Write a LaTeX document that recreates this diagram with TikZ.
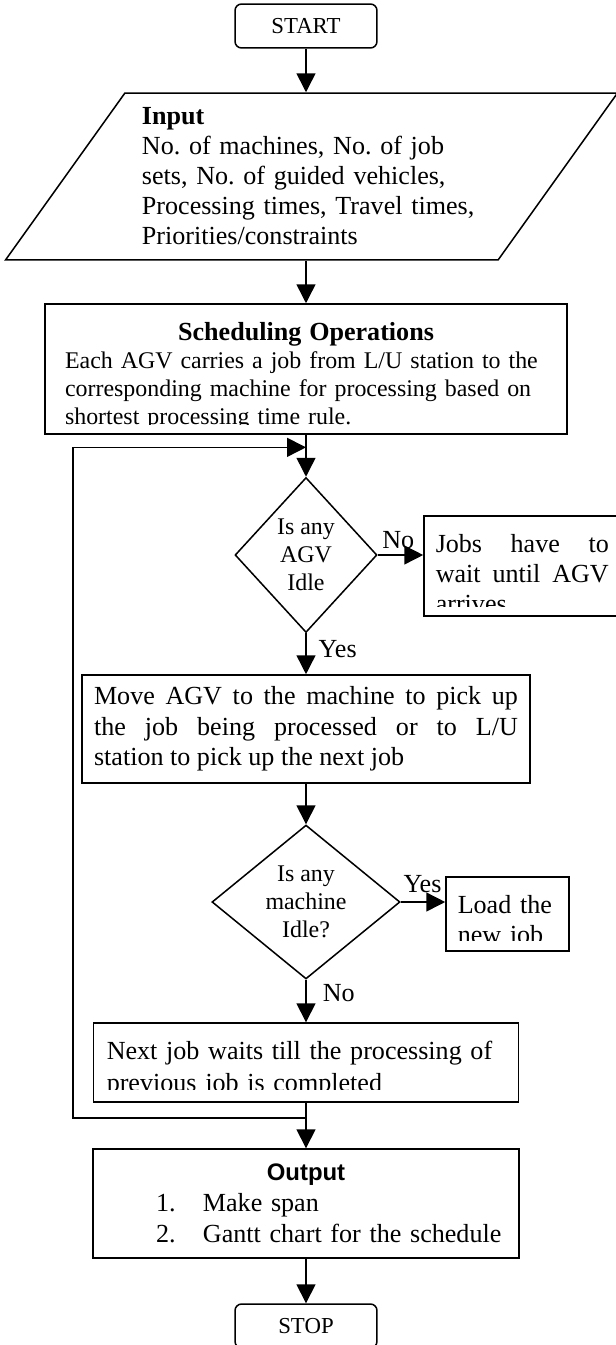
\documentclass[tikz,border=0pt]{standalone}
\usepackage{fontspec}
\setmainfont{Liberation Serif}
\setsansfont{Liberation Sans}
\usetikzlibrary{arrows.meta, shapes.geometric, calc}
\frenchspacing

\begin{document}
\begin{tikzpicture}[
    x=0.46pt, y=-0.46pt,
    >={Triangle[length=8.7pt, width=8.7pt]},
    line width=0.7pt,
    font=\fontsize{12}{13.8}\selectfont,
    term/.style={draw, rounded corners=3pt, minimum width=65.3pt,
                 minimum height=20.2pt, inner sep=0pt,
                 font=\fontsize{10.5}{12}\selectfont},
    io/.style={draw, trapezium, trapezium left angle=49,
               trapezium right angle=131, trapezium stretches body,
               minimum width=281.5pt, minimum height=76.8pt, inner sep=0pt,
               text width=156pt, align=left},
    proc/.style={draw, inner sep=0pt},
    decision/.style={draw, diamond, inner sep=0pt, align=center,
                     font=\fontsize{11}{12.8}\selectfont},
    boxtext/.style={inner sep=0pt, anchor=north west},
    answer/.style={inner sep=0pt, anchor=base west}
  ]
  \useasboundingbox (0,0) rectangle (615,1345);

  \node[term] (start) at (306,26) {START};

  \node[io] (input) at (311.5,176.5)
    {\textbf{Input}\\No. of machines, No. of job\\sets, No. of guided vehicles,\\
     Processing times, Travel times,\\Priorities/constraints};

  % scheduling block, text cut by the box margin
  \node[proc, minimum width=240.1pt, minimum height=59.8pt] (sched) at (306,369) {};
  \begin{scope}
    \clip (45,304) rectangle (567,424);
    \node[boxtext, anchor=north, text width=221.7pt, align=left,
          font=\fontsize{11}{12.9}\selectfont] at (306,322)
      {{\centering\fontsize{12}{13.8}\selectfont\bfseries Scheduling Operations\par}
       Each AGV carries a job from L/U station to the\\
       corresponding machine for processing based on\\
       shortest processing time rule.};
  \end{scope}

  \node[decision, minimum width=65.3pt, minimum height=71.3pt] (dec1) at (306,555)
    {Is any\\AGV\\Idle};

  \node[proc, minimum width=99.4pt, minimum height=46pt] (jobs) at (532,566) {};
  \begin{scope}
    \clip (424,516) rectangle (640,606);
    \node[boxtext, text width=79.6pt, align=justify] at (435,534)
      {Jobs have to\linebreak wait until AGV\linebreak arrives};
  \end{scope}

  \node[proc, minimum width=206.1pt, minimum height=49.7pt, text width=195pt,
        align=justify, font=\fontsize{12}{14}\selectfont] (move) at (306,729)
    {Move AGV to the machine to pick up\linebreak
     the job being processed or to L/U\linebreak
     station to pick up the next job};

  \node[decision, minimum width=86.5pt, minimum height=70.8pt, aspect=1.2]
    (dec2) at (306,902) {Is any\\machine\\Idle?};

  \node[proc, minimum width=56.6pt, minimum height=34pt] (load) at (507.5,914) {};
  \begin{scope}
    \clip (446,877) rectangle (569,940);
    \node[boxtext, text width=50pt, align=left] at (457,895) {Load the\\new job};
  \end{scope}

  \node[proc, minimum width=195.5pt, minimum height=36.3pt] (next) at (306,1062.5) {};
  \begin{scope}
    \clip (94,1023) rectangle (519,1089);
    \node[boxtext, text width=185pt, align=left,
          font=\fontsize{12}{14.7}\selectfont] at (106,1040)
      {Next job waits till the processing of\\previous job is completed};
  \end{scope}

  \node[proc, minimum width=196pt, minimum height=50.1pt, text width=184pt,
        align=left, font=\fontsize{12}{14.3}\selectfont] (output) at (306,1203.5)
    {{\centering\sffamily\bfseries\fontsize{11}{14.3}\selectfont Output\par}
     \hspace*{23pt}\makebox[21.6pt][l]{1.}Make span\\
     \hspace*{23pt}\makebox[21.6pt][l]{2.}Gantt chart for the schedule};

  \node[term] (stop) at (306,1326) {STOP};

  % main flow
  \draw[->] (start.south) -- (start.south |- input.north);
  \draw[->] (sched.north |- input.south) -- (sched);
  \draw[->] (sched) -- (dec1);
  \draw[->] (dec1.east) -- (dec1.east -| jobs.west)
    node[answer, pos=0, xshift=1.8pt, yshift=3.2pt] {No};
  \draw[->] (dec1) -- (move) node[answer, pos=0.58, xshift=5.5pt] {Yes};
  \draw[->] (move) -- (dec2);
  \draw[->] (dec2.east) -- (dec2.east -| load.west)
    node[answer, pos=0, xshift=0.9pt, yshift=4.6pt] {Yes};
  \draw[->] (dec2) -- (next) node[answer, pos=0.52, xshift=7.4pt] {No};
  \draw[->] (next) -- (output);
  \draw[->] (output) -- (stop);

  % loop back to the AGV check
  \coordinate (loopin) at ($(sched.south)!0.3!(dec1.north)$);
  \coordinate (loopout) at ($(next.south)!0.34!(output.north)$);
  \draw[->] (loopout) -- ++(-233,0) |- (loopin);
\end{tikzpicture}
\end{document}
